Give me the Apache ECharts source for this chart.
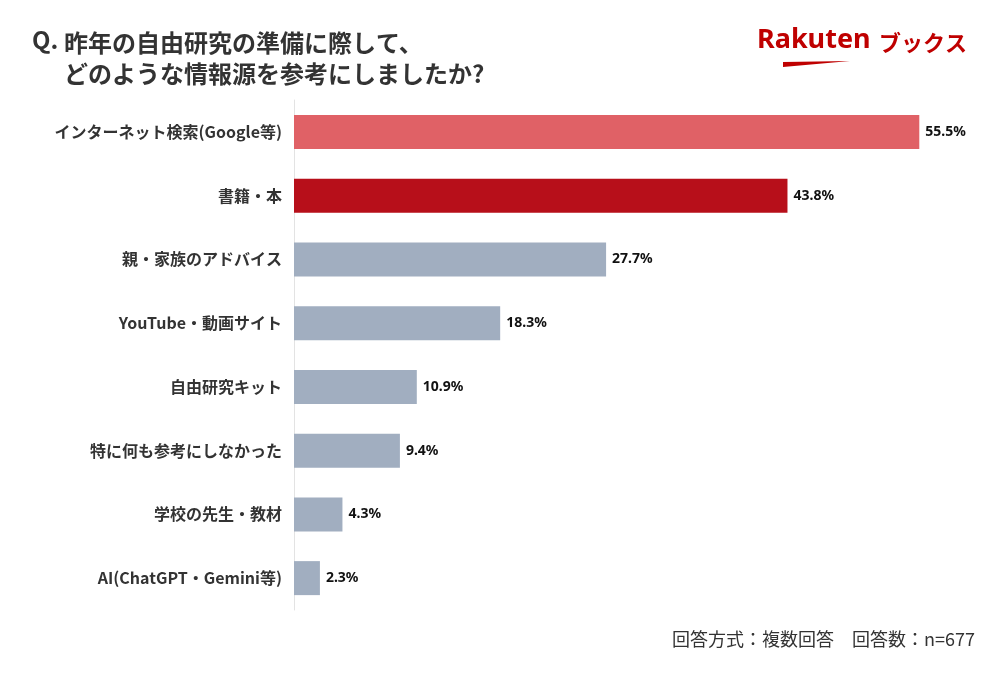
<!DOCTYPE html>
<html>
<head>
<meta charset="utf-8">
<script src="https://cdn.jsdelivr.net/npm/echarts@6/dist/echarts.min.js"></script>
<style>
  html, body { margin: 0; padding: 0; background: #fff; }
  #chart { width: 1000px; height: 674px; }
</style>
</head>
<body>
<div id="chart"></div>
<script>
// 回答項目 (上から順)
var categories = [
    'インターネット検索(Google等)',
    '書籍・本',
    '親・家族のアドバイス',
    'YouTube・動画サイト',
    '自由研究キット',
    '特に何も参考にしなかった',
    '学校の先生・教材',
    'AI(ChatGPT・Gemini等)'
];
var values = [55.5, 43.8, 27.7, 18.3, 10.9, 9.4, 4.3, 2.3];
var barColors = ['#E06166', '#B70F1A', '#A1AEC0', '#A1AEC0', '#A1AEC0', '#A1AEC0', '#A1AEC0', '#A1AEC0'];

var jp = '"Noto Sans CJK JP", "Noto Sans", sans-serif';

var chart = echarts.init(document.getElementById('chart'));

var option = {
    animation: false,
    backgroundColor: '#fff',
    grid: { left: 294, top: 100, width: 676, height: 510 },
    xAxis: {
        type: 'value',
        min: 0,
        max: 60,
        show: false
    },
    yAxis: {
        type: 'category',
        inverse: true,
        data: categories,
        axisLine: { show: true, lineStyle: { color: '#e3e3e3', width: 1 } },
        axisTick: { show: false },
        axisLabel: {
            fontFamily: jp,
            fontSize: 16,
            fontWeight: 'bold',
            color: '#333',
            margin: 12
        }
    },
    series: [{
        type: 'bar',
        barWidth: 34,
        data: values.map(function (v, i) {
            return { value: v, itemStyle: { color: barColors[i] } };
        }),
        label: {
            show: true,
            position: 'right',
            distance: 6,
            formatter: function (p) { return p.value.toFixed(1) + '%'; },
            fontFamily: '"Noto Sans", sans-serif',
            fontSize: 14,
            fontWeight: 'bold',
            color: '#111'
        }
    }],
    graphic: [
        {
            type: 'text', left: 32, top: 28,
            style: {
                text: 'Q.',
                fontFamily: jp, fontSize: 24, fontWeight: 'bold', fill: '#333'
            }
        },
        {
            type: 'text', left: 64, top: 27,
            style: {
                text: '昨年の自由研究の準備に際して、\nどのような情報源を参考にしましたか?',
                fontFamily: jp, fontSize: 24, fontWeight: 'bold',
                fill: '#333', lineHeight: 31
            }
        },
        {
            type: 'text', left: 757, top: 27,
            style: {
                text: 'Rakuten',
                fontFamily: '"Noto Sans", sans-serif', fontSize: 27, fontWeight: 'bold',
                fill: '#BF0000'
            }
        },
        {
            type: 'text', left: 879, top: 32,
            style: {
                text: 'ブックス',
                fontFamily: jp, fontSize: 22, fontWeight: 'bold',
                fill: '#BF0000'
            }
        },
        {
            type: 'polygon',
            shape: { points: [[783, 62], [850, 61], [783, 67]] },
            style: { fill: '#BF0000' }
        },
        {
            type: 'text', right: 25, top: 630,
            style: {
                text: '回答方式：複数回答　回答数：n=677',
                fontFamily: jp, fontSize: 18, fill: '#333'
            }
        }
    ]
};

chart.setOption(option);
</script>
</body>
</html>
